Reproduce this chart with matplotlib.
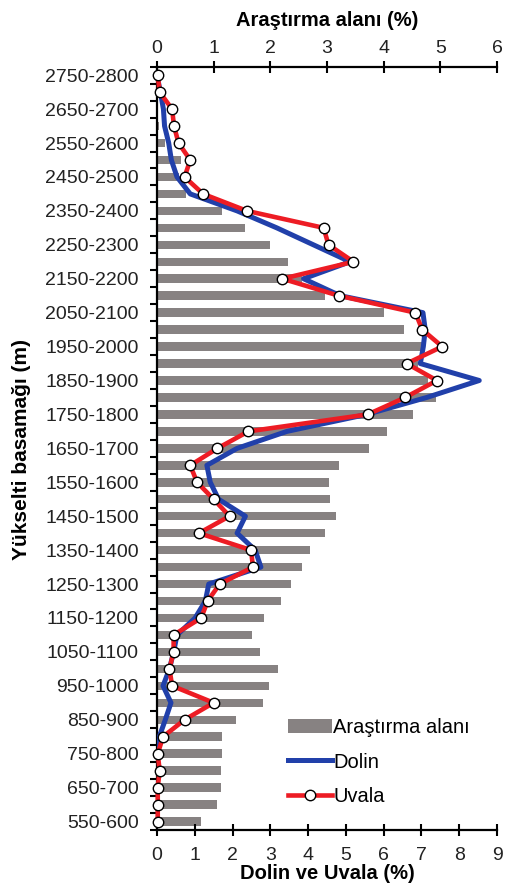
import numpy as np
import matplotlib
matplotlib.use("Agg")
from matplotlib import pyplot as plt

plt.rcParams['font.family'] = ['Liberation Sans', 'DejaVu Sans']

# elevation bins, listed top to bottom as in the figure
bins = ["2750-2800", "2700-2750", "2650-2700", "2600-2650", "2550-2600",
        "2500-2550", "2450-2500", "2400-2450", "2350-2400", "2300-2350",
        "2250-2300", "2200-2250", "2150-2200", "2100-2150", "2050-2100",
        "2000-2050", "1950-2000", "1900-1950", "1850-1900", "1800-1850",
        "1750-1800", "1700-1750", "1650-1700", "1600-1650", "1550-1600",
        "1500-1550", "1450-1500", "1400-1450", "1350-1400", "1300-1350",
        "1250-1300", "1200-1250", "1150-1200", "1100-1150", "1050-1100",
        "1000-1050", "950-1000", "900-950", "850-900", "800-850",
        "750-800", "700-750", "650-700", "600-650", "550-600"]

# study area share per bin (%), top axis
arastirma = [0, 0, 0, 0.03, 0.14, 0.42, 0.38, 0.52, 1.15, 1.55,
             2.0, 2.32, 2.55, 2.96, 4.0, 4.36, 4.68, 4.6, 4.78, 4.93,
             4.52, 4.06, 3.74, 3.21, 3.03, 3.06, 3.15, 2.97, 2.70, 2.55,
             2.37, 2.18, 1.88, 1.68, 1.81, 2.14, 1.97, 1.87, 1.40, 1.15,
             1.14, 1.13, 1.13, 1.05, 0.77]

# doline share per bin (%), bottom axis
dolin = [0, 0.09, 0.17, 0.2, 0.31, 0.38, 0.53, 0.88, 2.12, 3.17,
         4.14, 5.11, 3.88, 4.85, 7.04, 7.10, 7.05, 6.97, 8.53, 7.14,
         5.55, 3.44, 2.12, 1.32, 1.41, 1.63, 2.34, 2.12, 2.60, 2.75,
         1.37, 1.28, 1.01, 0.53, 0.44, 0.33, 0.16, 0.37, 0.22, 0.06,
         0, 0, 0, 0, 0]

# uvala share per bin (%), bottom axis
uvala = [0.02, 0.07, 0.40, 0.45, 0.57, 0.88, 0.73, 1.22, 2.38, 4.41,
         4.54, 5.20, 3.32, 4.81, 6.84, 7.02, 7.55, 6.61, 7.41, 6.57,
         5.58, 2.42, 1.60, 0.88, 1.06, 1.50, 1.92, 1.11, 2.49, 2.54,
         1.66, 1.34, 1.17, 0.44, 0.44, 0.33, 0.40, 1.50, 0.73, 0.16,
         0.02, 0.07, 0.02, 0.02, 0.02]

y = np.arange(len(bins))

fig = plt.figure(figsize=(5.1, 8.85), dpi=100)
ax = fig.add_axes([157 / 510, 1 - 830 / 885, 340 / 510, (830 - 66.7) / 885])
# twin for the lines, drawn above the bars
ax2 = ax.twiny()

# bars on the primary axis, x axis at the top
ax.barh(y, arastirma, height=0.5, color='#878282', label='Araştırma alanı')
ax.set_xlim(0, 6)
ax.set_ylim(44.5, -0.5)
ax.xaxis.set_ticks_position('top')
ax.xaxis.set_label_position('top')
ax.set_xticks(np.arange(0, 7))
ax.set_xlabel('Araştırma alanı (%)', fontsize=14.5, fontweight='bold', labelpad=10)
ax.tick_params(axis='x', direction='inout', length=8, width=1.5, labelsize=14, pad=3,
               labelcolor='#222222')

ax.set_yticks(y[::2])
ax.set_yticklabels(bins[::2])
ax.set_yticks(np.arange(-0.5, 45, 1), minor=True)
ax.tick_params(axis='y', which='major', length=0, labelsize=14, pad=13, labelcolor='#222222')
ax.tick_params(axis='y', which='minor', direction='out', length=5, width=1.5)
for s in ['bottom', 'right']:
    ax.spines[s].set_visible(False)
for s in ['top', 'left']:
    ax.spines[s].set_linewidth(1.6)

# lines on twin axis, x axis at the bottom
ax2.plot(dolin, y, color='#2140aa', lw=3.6, label='Dolin')
ax2.plot(uvala, y, color='#ed1c24', lw=3.3, marker='o', markersize=7.5,
         markerfacecolor='white', markeredgecolor='black', markeredgewidth=1.0,
         label='Uvala', clip_on=False)
ax2.set_xlim(0, 9)
ax2.set_ylim(44.5, -0.5)
ax2.xaxis.set_ticks_position('bottom')
ax2.xaxis.set_label_position('bottom')
ax2.set_xticks(np.arange(0, 10))
ax2.set_xlabel('Dolin ve Uvala (%)', fontsize=14.5, fontweight='bold', labelpad=0)
ax2.tick_params(axis='x', direction='inout', length=8, width=1.5, labelsize=14, pad=8,
                labelcolor='#222222')
for s in ['top', 'left', 'right']:
    ax2.spines[s].set_visible(False)
ax2.spines['bottom'].set_linewidth(1.6)

fig.text(22 / 510, 1 - 450 / 885, 'Yükselti basamağı (m)', rotation=90,
         ha='center', va='center', fontsize=15, fontweight='bold')

h1, l1 = ax.get_legend_handles_labels()
h2, l2 = ax2.get_legend_handles_labels()
fig.legend(h1 + h2, l1 + l2, loc='center left', bbox_to_anchor=(288 / 510, 1 - 762 / 885),
           frameon=False, fontsize=14.5, handlelength=2.2, handletextpad=0.05,
           borderpad=0, borderaxespad=0, labelspacing=0.75)

fig.savefig('out.png', dpi=100)
